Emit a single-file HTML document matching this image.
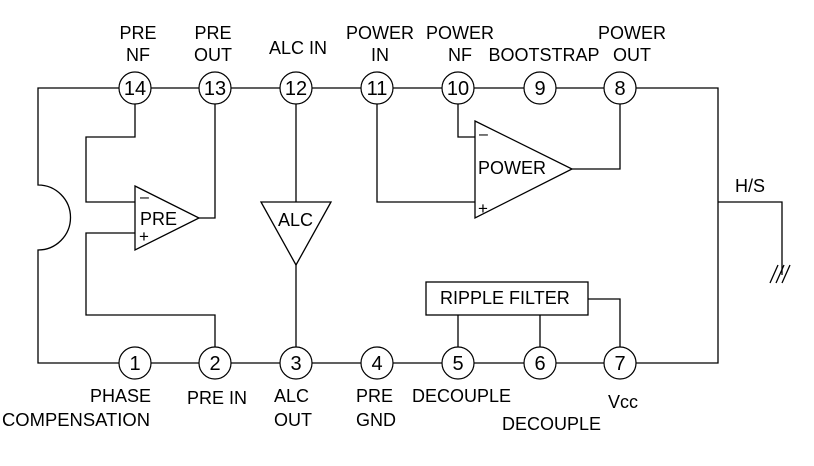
<!DOCTYPE html>
<html><head><meta charset="utf-8"><style>body{margin:0;background:#fff}svg{display:block}</style></head><body>
<svg width="814" height="466" viewBox="0 0 814 466" xmlns="http://www.w3.org/2000/svg" font-family="Liberation Sans, Arial, sans-serif" font-size="18" fill="#000">
<g stroke="#000" stroke-width="1.3" fill="none">
<path d="M135 88 H38 V185 A32 32 0 0 1 38 250 V363 H718 V88 H620"/>
<line x1="135" y1="88" x2="620" y2="88"/>
<path d="M718 202 H782 V275"/>
<path d="M770 283 L778 265 M776 283 L784 265 M782 283 L790 265"/>
<path d="M135 104 V137 H86 V202 H135"/>
<path d="M135 233 H86 V315 H215 V347"/>
<path d="M199 218 H215 V104"/>
<path d="M135 186 L199 218 L135 250 Z" fill="#fff"/>
<line x1="296" y1="104" x2="296" y2="347"/>
<path d="M261 202 H331 L296 265 Z" fill="#fff"/>
<path d="M377 104 V202 H475"/>
<path d="M458 104 V137 H475"/>
<path d="M572 169 H620 V104"/>
<path d="M475 121 L572 169 L475 218 Z" fill="#fff"/>
<rect x="426" y="282" width="162" height="33"/>
<path d="M458 315 V347 M540 315 V347 M588 299 H620 V347"/>
</g>
<g stroke="#000" stroke-width="1.2" fill="#fff">
<circle cx="135" cy="88" r="16"/><circle cx="215" cy="88" r="16"/><circle cx="296" cy="88" r="16"/><circle cx="377" cy="88" r="16"/><circle cx="458" cy="88" r="16"/><circle cx="540" cy="88" r="16"/><circle cx="620" cy="88" r="16"/>
<circle cx="135" cy="363" r="16"/><circle cx="215" cy="363" r="16"/><circle cx="296" cy="363" r="16"/><circle cx="377" cy="363" r="16"/><circle cx="458" cy="363" r="16"/><circle cx="540" cy="363" r="16"/><circle cx="620" cy="363" r="16"/>
</g>
<g text-anchor="middle" font-size="20">
<text x="135" y="95">14</text><text x="215" y="95">13</text><text x="296" y="95">12</text><text x="377" y="95">11</text><text x="458" y="95">10</text><text x="540" y="95">9</text><text x="620" y="95">8</text>
<text x="135" y="370">1</text><text x="215" y="370">2</text><text x="296" y="370">3</text><text x="377" y="370">4</text><text x="458" y="370">5</text><text x="540" y="370">6</text><text x="620" y="370">7</text>
</g>
<g text-anchor="middle">
<text x="138" y="39">PRE</text><text x="138" y="61">NF</text>
<text x="213" y="39">PRE</text><text x="213" y="61">OUT</text>
<text x="298" y="54">ALC IN</text>
<text x="380" y="39">POWER</text><text x="380" y="61">IN</text>
<text x="460" y="39">POWER</text><text x="460" y="61">NF</text>
<text x="544" y="61">BOOTSTRAP</text>
<text x="632" y="39">POWER</text><text x="632" y="61">OUT</text>
<text x="750" y="192">H/S</text>
</g>
<text x="140" y="225">PRE</text>
<text x="140" y="202" font-size="16">–</text>
<text x="139" y="242" font-size="17">+</text>
<text x="278" y="226">ALC</text>
<text x="478" y="174">POWER</text>
<text x="479" y="139" font-size="16">–</text>
<text x="478" y="214" font-size="17">+</text>
<text x="440" y="304">RIPPLE FILTER</text>
<text x="90" y="402">PHASE</text>
<text x="2" y="426" textLength="148" lengthAdjust="spacingAndGlyphs">COMPENSATION</text>
<text x="187" y="404">PRE IN</text>
<text x="274" y="402">ALC</text><text x="274" y="426">OUT</text>
<text x="356" y="402">PRE</text><text x="356" y="426">GND</text>
<text x="412" y="402" textLength="99" lengthAdjust="spacingAndGlyphs">DECOUPLE</text>
<text x="502" y="430" textLength="99" lengthAdjust="spacingAndGlyphs">DECOUPLE</text>
<text x="608" y="408">Vcc</text>
</svg>
</body></html>
